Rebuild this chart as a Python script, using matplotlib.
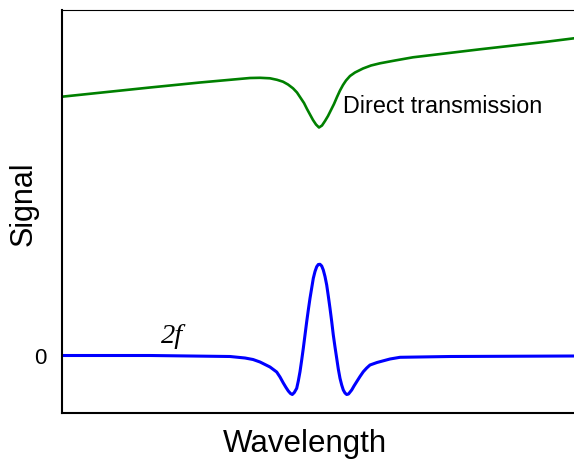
import matplotlib
matplotlib.use('Agg')
import matplotlib.pyplot as plt

# wavelength in arbitrary units, signal in arbitrary units (0 = 2f baseline)
direct_x = [0, 88, 138, 188, 198, 208, 215, 221, 226, 231,
            235, 238, 242, 245, 248, 251, 254, 257, 260, 263,
            266, 268, 272, 275, 278, 281, 284, 288, 293, 301,
            309, 318, 333, 351, 418, 485, 512]
direct_y = [2.588, 2.68, 2.73, 2.775, 2.777, 2.772, 2.757, 2.738, 2.71, 2.672,
            2.63, 2.585, 2.525, 2.465, 2.41, 2.355, 2.31, 2.28, 2.30, 2.345,
            2.395, 2.435, 2.515, 2.585, 2.65, 2.705, 2.75, 2.795, 2.83, 2.87,
            2.90, 2.922, 2.95, 2.982, 3.062, 3.138, 3.172]

harm_x = [0, 88, 168, 183, 191, 198, 203, 208,
          214.7, 218, 221.3, 224, 226.3, 228.5, 230.3, 232.3, 234.7, 236.3,
          238, 239.7, 241.3, 243, 244.7, 246.3, 248, 249.7, 251.3, 253,
          254.7, 256.3, 258, 259.7, 261.3, 263, 264.7, 266.3, 268, 269.7,
          271.3, 273, 274.7, 276.3, 278, 279.7, 281.3, 283, 284.7, 286.5,
          289.7, 292, 294.7, 298, 301.3, 304.7, 308, 315, 328, 338,
          388, 512]
harm_y = [0, 0, -0.01, -0.025, -0.04, -0.065, -0.09, -0.115,
          -0.165, -0.215, -0.275, -0.32, -0.355, -0.38, -0.39, -0.37, -0.328, -0.255,
          -0.162, -0.045, 0.072, 0.205, 0.338, 0.455, 0.572, 0.675, 0.772, 0.84,
          0.888, 0.91, 0.912, 0.895, 0.855, 0.79, 0.705, 0.595, 0.472, 0.34,
          0.205, 0.085, -0.028, -0.135, -0.228, -0.295, -0.345, -0.375, -0.39, -0.385,
          -0.345, -0.305, -0.262, -0.21, -0.162, -0.125, -0.095, -0.07, -0.035, -0.018,
          -0.01, -0.005]

plt.rcParams['font.family'] = ['Liberation Sans', 'DejaVu Sans']

fig = plt.figure(figsize=(5.74, 4.59), dpi=100)
ax = fig.add_axes([62 / 574, 1 - 413 / 459, 1 - 62 / 574, 403 / 459])

ax.plot(direct_x, direct_y, color='#008000', linewidth=1.9,
        solid_capstyle='round', solid_joinstyle='round')
ax.plot(harm_x, harm_y, color='#0000ff', linewidth=2.2,
        solid_capstyle='round', solid_joinstyle='round')

ax.text(281, 2.425, 'Direct transmission', fontsize=16.8, ha='left', va='baseline')
ax.text(98.7, 0.122, '2f', fontsize=20.5, fontstyle='italic',
        family='Liberation Serif', ha='left', va='baseline')

ax.set_xlim(0, 512)
ax.set_ylim(-0.575, 3.455)
ax.set_xticks([])
ax.set_yticks([0])
ax.set_yticklabels(['0'], fontsize=16)
ax.tick_params(axis='y', length=0, pad=11)

ax.spines['right'].set_visible(False)
ax.spines['left'].set_linewidth(1.5)
ax.spines['bottom'].set_linewidth(1.5)
ax.spines['top'].set_linewidth(0.8)

ax.set_xlabel('Wavelength', fontsize=22.5)
ax.set_ylabel('Signal', fontsize=22)
ax.xaxis.set_label_coords(0.474, -0.04, transform=ax.transAxes)
ax.xaxis.label.set_va('top')
ax.yaxis.set_label_coords(-0.075, 0.52, transform=ax.transAxes)
ax.yaxis.label.set_va('center')

fig.savefig('out.png', dpi=100)
